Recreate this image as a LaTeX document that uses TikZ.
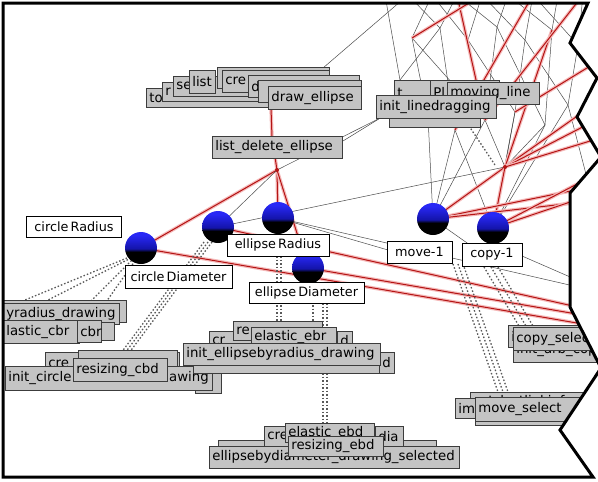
\documentclass[tikz,border=0pt]{standalone}
\usepackage{fontspec}
\usetikzlibrary{calc}
\setmainfont{DejaVu Sans}
\definecolor{gfill}{RGB}{196,196,196}
\definecolor{gedge}{RGB}{60,60,60}
\definecolor{redc}{RGB}{180,20,20}
\definecolor{pinkc}{RGB}{245,185,185}
\definecolor{sphtop}{RGB}{40,40,245}
\definecolor{sphmid}{RGB}{20,20,170}
\definecolor{sphbot}{RGB}{90,10,10}
\pgfdeclareverticalshading{sphshade}{100bp}{color(0bp)=(sphbot); color(20bp)=(black); color(44bp)=(black); color(49bp)=(sphmid); color(70bp)=(sphtop); color(100bp)=(sphtop)}
\newcommand\gfont{\fontsize{13.3}{15}\selectfont}
\newcommand\lfont{\fontsize{12.8}{15}\selectfont}
\tikzset{
 gbox/.style={draw=gedge, fill=gfill, line width=0.7pt, inner xsep=3pt, inner ysep=0pt, anchor=north west, align=left, font=\gfont},
 gtext/.style={font=\gfont, inner sep=0pt},
 wbox/.style={draw=black, fill=white, line width=1pt, inner sep=0pt, font=\lfont},
 sph/.style={circle, inner sep=0pt, minimum size=32pt, shading=sphshade},
 redge/.style={draw=redc, line width=1pt, preaction={draw=pinkc, line width=3.4pt}},
 bedge/.style={draw=black!70, line width=0.5pt},
 dedge/.style={draw=black!65, line width=1.3pt, dash pattern=on 1.5pt off 2pt},
 hubdot/.style={circle, fill=redc, inner sep=0pt, minimum size=4pt},
}
\newcommand\gb[6]{\pgfmathsetmacro\gbw{#4-#2-6.7}\pgfmathsetmacro\gbh{#5-#3}%
 \node[gbox, text width=\gbw pt, minimum height=\gbh pt] (#1) at (#2,#3) {\mbox{#6}};}
\begin{document}
\begin{tikzpicture}[x=1pt,y=-1pt]
\useasboundingbox (0,0) rectangle (598,482);
\begin{scope}
\clip (3,3) -- (588,3) -- (570,43) -- (597,78) -- (577,117) -- (601,157) -- (570,193) -- (570,307) -- (601,368) -- (560,430) -- (593,477) -- (3,477) -- cycle;
\fill[white] (0,0) rectangle (610,490);
% ---------- coordinates
\coordinate (s1) at (141,248); \coordinate (s2) at (218,227); \coordinate (s3) at (278,218);
\coordinate (s4) at (308,268); \coordinate (s5) at (433,219); \coordinate (s6) at (493,228);
\coordinate (A) at (277,170); \coordinate (B) at (505,167);
\coordinate (de) at (271,108); \coordinate (ldt) at (272,137); \coordinate (ldb) at (275,157);
\coordinate (lde) at (343,141); \coordinate (ildw) at (382,117); \coordinate (ildb) at (428,117);
\coordinate (tp) at (323,68); \coordinate (m1e) at (388,250); \coordinate (c1w) at (470,245);
\coordinate (c1e) at (522,256); \coordinate (tbox) at (400,80);
\coordinate (eR1) at (600,327); \coordinate (eR2) at (600,312); \coordinate (eR3) at (600,318);
\coordinate (eR4) at (600,292); \coordinate (eR5) at (600,290);
\coordinate (eR6) at (600,185); \coordinate (eR7) at (600,200); \coordinate (eR8) at (600,172);
\coordinate (eR9) at (600,192); \coordinate (eR10) at (600,100); \coordinate (eR11) at (600,118);
\coordinate (eR12) at (600,138); \coordinate (eR13) at (600,60); \coordinate (eR14) at (600,228);
\coordinate (u0) at (385,-5);
\coordinate (u1) at (408,-5); \coordinate (u2) at (432,-5); \coordinate (u3) at (457,-5);
\coordinate (u4) at (482,-5); \coordinate (u5) at (508,-5); \coordinate (u6) at (533,-5);
\coordinate (u7) at (558,-5); \coordinate (u8) at (583,-5);
\coordinate (v1) at (412,38); \coordinate (v2) at (440,28); \coordinate (v3) at (468,40);
\coordinate (v4) at (497,27); \coordinate (v5) at (525,40); \coordinate (v6) at (552,30);
\coordinate (v7) at (578,45);
\coordinate (w1) at (455,130); \coordinate (w2) at (485,120); \coordinate (w3) at (515,112);
\coordinate (w4) at (545,125); \coordinate (w5) at (568,105);
% ---------- mesh (black)
\foreach \a/\b in {u1/v2,u2/v1,u2/v3,u3/v2,u3/v4,u4/v3,u4/v5,u5/v4,u5/v6,u6/v5,u6/v7,u7/v6,u8/v7,
  v1/w2,v2/w1,v3/w3,v4/w2,v4/w4,v5/w3,v5/w5,v6/w4,v7/w5,w1/s5,w2/B,w3/B,w4/s6,w5/s6,w2/s5,w3/s6,w4/B,
  u0/tbox,v2/tbox,w5/eR14,w1/s6}
  \draw[bedge] (\a) -- (\b);
\draw[bedge] (u1) -- (tp);
\draw[bedge] (v1) -- (ildb);
% ---------- mesh (red)
\foreach \a/\b in {u3/w2,u6/w1,v6/B,u8/w2,eR13/w3,B/eR10,B/eR11,B/eR12,s5/B,s6/B,s5/eR6,s5/eR7,s6/eR8,s6/eR9,u4/v1}
  \draw[redge] (\a) -- (\b);
% ---------- left part edges
\draw[redge] (de) -- (ldt);
\draw[redge] (ldb) -- (A);
\draw[redge] (A) -- (s1);
\draw[redge] (A) -- (s3);
\draw[redge] (A) -- (s4);
\draw[bedge] (A) -- (s2);
\draw[redge] (s1) -- (eR1);
\draw[redge] (s2) -- (eR2);
\draw[redge] (s4) -- (eR3);
\draw[bedge] (s3) -- (eR4);
\draw[bedge] (s3) -- (m1e);
\draw[bedge] (s2) -- (B);
\draw[bedge] (A) -- (ildw);
\draw[bedge] (lde) -- (ildw);
\draw[bedge] (s5) -- (ildb);
\draw[bedge] (s5) -- (c1w);
\draw[bedge] (c1e) -- (eR5);
\draw[dedge] (465,120) -- (495,165);
% ---------- dashed bundles
\foreach \dx/\ex/\ey in {0/25/300,4/48/300,7/70/322,10/92/322}
  \draw[dedge] ($(s1)+(-14+\dx,10)$) -- (\ex,\ey);
\foreach \d in {-4,0,4}
  \draw[dedge] ($(s2)+(-10+\d,15)$) -- (122+\d,357);
\foreach \x in {277,281,313}
  \draw[dedge] (\x,256) -- (\x,322);
\foreach \x in {323,327}
  \draw[dedge] (\x,303) -- (\x,425);
\foreach \d in {0,5,10}
  \draw[dedge] (453+\d,264) -- (498+\d,392);
\foreach \d in {0,7,14}
  \draw[dedge] (484+\d,267) -- (519+\d,326);
% ---------- top stack
\gb{ta}{146}{88}{292}{107}{to}
\gb{tb}{162}{82}{300}{101}{r}
\gb{tc}{173}{76}{310}{96}{se}
\gb{td}{217}{67}{330}{88}{}
\gb{te}{189}{70}{216}{93}{list}
\gb{tf}{222}{70}{330}{92}{cre}
\gb{tg}{248}{75}{360}{97}{d}
\gb{th}{258}{80}{362}{102}{}
\gb{drawellipse}{268}{86}{362}{109}{draw\_ellipse}
\gb{listdel}{212}{136}{343}{158}{list\_delete\_ellipse}
% ---------- linedragging stack
\gb{na}{389}{103}{481}{127}{}
\gb{nb}{394}{80}{440}{104}{t}
\gb{nc}{430}{80}{500}{104}{Pl}
\gb{movingline}{447}{82}{540}{104}{moving\_line}
\gb{initld}{376}{95}{497}{118}{init\_linedragging}
% ---------- left stack
\gb{la}{3}{300}{127}{322}{}
\gb{yrad}{3}{303}{120}{324}{yradius\_drawing}
\gb{lc}{100}{322}{115}{340}{}
\gb{lastic}{3}{320}{80}{343}{lastic\_cbr}
\gb{ld}{77}{320}{102}{342}{cbr}
\gb{le}{45}{352}{180}{375}{cre}
\gb{lf}{78}{350}{178}{372}{}
\gb{lg}{195}{368}{222}{393}{}
\gb{initcircle}{5}{366}{213}{390}{init\_circle}
\node[gtext, anchor=east] (initcircleR) at (209,378) {awing};
\gb{rescbd}{73}{358}{168}{381}{resizing\_cbd}
% ---------- middle stack
\gb{ma}{209}{331}{262}{350}{cr}
\gb{mb}{233}{321}{323}{340}{re}
\gb{elasticebr}{251}{327}{337}{346}{elastic\_ebr}
\gb{mc}{337}{331}{353}{350}{d}
\gb{md}{193}{352}{395}{373}{}
\gb{me}{379}{352}{395}{373}{d}
\gb{initebr}{183}{343}{381}{365}{init\_ellipsebyradius\_drawing}
% ---------- bottom stack
\gb{ba}{218}{440}{437}{460}{}
\gb{bb}{264}{426}{300}{446}{cre}
\gb{bc}{375}{426}{404}{446}{dia}
\gb{elasticebd}{285}{423}{375}{442}{elastic\_ebd}
\gb{ebdsel}{209}{446}{460}{468}{ellipsebydiameter\_drawing\_selected}
\gb{resebd}{288}{436}{384}{456}{resizing\_ebd}
% ---------- right stacks
\gb{ra}{508}{325}{600}{347}{i}
\gb{rb}{513}{338}{600}{362}{init\_arb\_cop}
\gb{copysel}{513}{327}{600}{350}{copy\_selec}
\gb{setlast}{470}{392}{600}{412}{set\_lastlinkinfo}
\gb{rc}{455}{398}{520}{418}{im}
\gb{rd}{475}{405}{600}{425}{}
\gb{movesel}{475}{397}{600}{421}{move\_select}
% ---------- hubs and spheres
\node[hubdot] (hubA) at (A) {};
\node[hubdot] (hubB) at (B) {};
\node[sph] (S1) at (s1) {};
\node[sph] (S2) at (s2) {};
\node[sph] (S3) at (s3) {};
\node[sph] (S4) at (s4) {};
\node[sph] (S5) at (s5) {};
\node[sph] (S6) at (s6) {};
% ---------- white labels
\node[wbox, minimum width=95pt, minimum height=21pt] (cradius) at (74,227) {circle\,Radius};
\node[wbox, minimum width=107pt, minimum height=23pt] (cdiam) at (178.5,277) {circle\,Diameter};
\node[wbox, minimum width=102pt, minimum height=22pt] (eradius) at (278,245) {ellipse\,Radius};
\node[wbox, minimum width=115pt, minimum height=21pt] (ediam) at (306.5,292.5) {ellipse\,Diameter};
\node[wbox, minimum width=65pt, minimum height=22pt] (move1) at (419.5,252) {move-1};
\node[wbox, minimum width=60pt, minimum height=23pt] (copy1) at (492,254.5) {copy-1};
\end{scope}
\draw[line width=3pt, line join=miter] (3,3) -- (588,3) -- (570,43) -- (597,78) -- (577,117) -- (601,157) -- (570,193) -- (570,307) -- (601,368) -- (560,430) -- (593,477) -- (3,477) -- cycle;
\end{tikzpicture}
\end{document}
